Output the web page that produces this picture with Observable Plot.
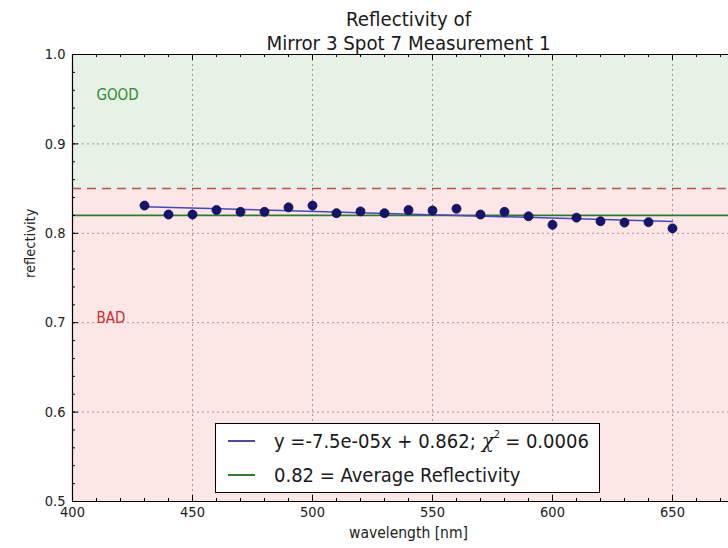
<!DOCTYPE html>
<html>
<head>
<meta charset="utf-8">
<script src="https://cdn.jsdelivr.net/npm/d3@7"></script>
<script src="https://cdn.jsdelivr.net/npm/@observablehq/plot@0.6"></script>
<style>
  html, body { margin: 0; padding: 0; background: #fff; overflow: hidden; }
  #chart { position: relative; width: 728px; height: 548px; font-family: "DejaVu Sans Condensed", "DejaVu Sans", sans-serif; }
  #chart svg { display: block; }
  .legend {
    position: absolute; left: 215px; top: 423px; width: 385px; height: 70px;
    box-sizing: border-box; border: 1px solid #000; background: #fff;
    font-size: 20px; color: #1a1a1a;
  }
  .legend .row { position: absolute; left: 0; height: 24px; display: flex; align-items: center; white-space: nowrap; }
  .legend .swatch { width: 27px; height: 2px; margin-left: 12px; margin-right: 19px; }
  .chi { font-family: "DejaVu Serif", serif; font-style: italic; margin-left: 6px; }
  .sup { font-size: 11px; position: relative; top: -7px; margin-right: 5px; }
</style>
</head>
<body>
<div id="chart"></div>
<script>
// Reflectivity measured at each wavelength (nm)
const wavelength = [430, 440, 450, 460, 470, 480, 490, 500, 510, 520, 530, 540,
                    550, 560, 570, 580, 590, 600, 610, 620, 630, 640, 650];
const reflectivity = [0.831, 0.821, 0.821, 0.826, 0.824, 0.824, 0.829, 0.831, 0.8225, 0.8245, 0.8225, 0.826,
                      0.8255, 0.8275, 0.821, 0.824, 0.819, 0.8095, 0.8175, 0.8135, 0.812, 0.8125, 0.8055];

// Linear fit and summary values shown in the legend
const fitSlope = -7.5e-05;
const fitIntercept = 0.862;
const chiSquared = 0.0006;
const averageReflectivity = 0.82;
const goodThreshold = 0.85;

// Axis ticks
const xTicks = [400, 450, 500, 550, 600, 650];
const xMinorTicks = d3.range(400, 680, 10);
const yTicks = [0.5, 0.6, 0.7, 0.8, 0.9, 1.0];
const yMinorTicks = d3.range(50, 101, 2).map(v => v / 100);

const points = wavelength.map((w, i) => ({w, r: reflectivity[i]}));
const fitEnds = [wavelength[0], wavelength[wavelength.length - 1]];
const fitLine = fitEnds.map(w => ({w, r: fitSlope * w + fitIntercept}));

const W = 728, H = 548;
const mTop = 54, mBottom = 47, mLeft = 72, mRight = 0;
const frameW = W - mLeft - mRight, frameH = H - mTop - mBottom;
const pxPerNm = 2.4;
const xMax = 400 + frameW / pxPerNm;

const font = "DejaVu Sans Condensed, DejaVu Sans, sans-serif";

const plot = Plot.plot({
  width: W,
  height: H,
  marginTop: mTop,
  marginBottom: mBottom,
  marginLeft: mLeft,
  marginRight: mRight,
  style: {fontFamily: font, background: "transparent", overflow: "visible"},
  x: {domain: [400, xMax]},
  y: {domain: [0.5, 1.0]},
  marks: [
    // GOOD / BAD bands
    Plot.rect([0], {y1: goodThreshold, y2: 1.0, fill: "#e6f2e6"}),
    Plot.rect([0], {y1: 0.5, y2: goodThreshold, fill: "#fde6e6"}),
    // dotted grid
    Plot.ruleX(xTicks, {stroke: "#9a9a9a", strokeDasharray: "2,3"}),
    Plot.ruleY(yTicks, {stroke: "#9a9a9a", strokeDasharray: "2,3"}),
    // threshold and average lines
    Plot.ruleY([goodThreshold], {stroke: "#c0504a", strokeWidth: 1.5, strokeDasharray: "9,6"}),
    Plot.ruleY([averageReflectivity], {stroke: "#2e7d2e", strokeWidth: 1.6}),
    // fitted line
    Plot.line(fitLine, {x: "w", y: "r", stroke: "#4646c0", strokeWidth: 1.5}),
    // measurements
    Plot.dot(points, {x: "w", y: "r", r: 4.5, fill: "#151570", stroke: "#0a0a40", strokeWidth: 0.8}),
    // band labels
    Plot.text(["GOOD"], {x: 410, y: 0.955, textAnchor: "start", fill: "#2e8b2e", fontSize: 15}),
    Plot.text(["BAD"], {x: 410, y: 0.705, textAnchor: "start", fill: "#cc3030", fontSize: 15}),
    // spines
    Plot.ruleX([400], {stroke: "#000", strokeWidth: 1.2}),
    Plot.ruleY([0.5, 1.0], {stroke: "#000", strokeWidth: 1.2}),
    // inward ticks: bottom, top, left
    Plot.ruleX(xTicks, {stroke: "#000", insetTop: frameH - 6}),
    Plot.ruleX(xTicks, {stroke: "#000", insetBottom: frameH - 6}),
    Plot.ruleX(xMinorTicks, {stroke: "#000", insetTop: frameH - 3}),
    Plot.ruleX(xMinorTicks, {stroke: "#000", insetBottom: frameH - 3}),
    Plot.ruleY(yTicks, {stroke: "#000", insetRight: frameW - 6}),
    Plot.ruleY(yMinorTicks, {stroke: "#000", insetRight: frameW - 3}),
    // tick labels
    Plot.axisX(xTicks, {tickSize: 0, tickPadding: 5, fontSize: 14.5, label: null, color: "#222"}),
    Plot.axisY(yTicks, {tickSize: 0, tickPadding: 7, fontSize: 14.5, label: null, color: "#222", tickFormat: d3.format(".1f")}),
    // axis titles and chart title
    Plot.text(["wavelength [nm]"], {frameAnchor: "bottom", dx: 8, dy: 36, fontSize: 15.5, fill: "#222"}),
    Plot.text(["reflectivity"], {frameAnchor: "left", dx: -42, rotate: -90, fontSize: 14.5, fill: "#222"}),
    Plot.text(["Reflectivity of\nMirror 3 Spot 7 Measurement 1"], {frameAnchor: "top", lineAnchor: "middle", dx: 8, dy: -24, lineHeight: 1.15, fontSize: 20.3, fill: "#1a1a1a"})
  ]
});

const chart = document.getElementById("chart");
chart.appendChild(plot);

// legend box
const legend = document.createElement("div");
legend.className = "legend";
legend.innerHTML = `
  <div class="row" style="top:5px"><span class="swatch" style="background:#4a4aa8"></span>y =${fitSlope.toExponential(1).replace("e-5", "e-05")}x + ${fitIntercept};<span class="chi">χ</span><span class="sup">2</span>= ${chiSquared.toFixed(4)}</div>
  <div class="row" style="top:39px"><span class="swatch" style="background:#2e7d2e"></span>${averageReflectivity} = Average Reflectivity</div>`;
chart.appendChild(legend);
</script>
</body>
</html>
